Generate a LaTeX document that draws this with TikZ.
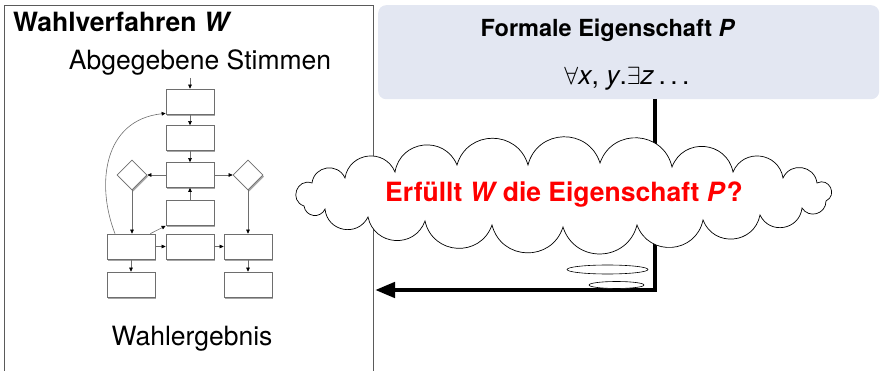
\documentclass[tikz,border=0pt]{standalone}
\usepackage{fontspec}
\setmainfont{TeX Gyre Heros}
\usetikzlibrary{shapes.geometric,arrows.meta,shadows}
\definecolor{panelblue}{RGB}{227,231,242}
\definecolor{boxgray}{RGB}{110,110,110}
\definecolor{framegray}{RGB}{90,90,90}
\tikzset{
  fcbox/.style={draw=boxgray, line width=0.7pt, fill=white, minimum width=48pt, minimum height=25pt, inner sep=0pt,
    drop shadow={shadow xshift=1.2pt, shadow yshift=-1.6pt, opacity=0.35, fill=black}},
  fcdia/.style={draw=boxgray, line width=0.7pt, fill=white, diamond, minimum width=30pt, minimum height=30pt, inner sep=0pt,
    drop shadow={shadow xshift=1.2pt, shadow yshift=-1.6pt, opacity=0.35, fill=black}},
  fcarrow/.style={draw=boxgray, line width=0.6pt, -{Triangle[length=4pt,width=3.6pt,color=black]}},
  bigtext/.style={font=\fontsize{26.5pt}{30pt}\selectfont, inner sep=0pt},
  bubble/.style={draw=black, fill=white, ellipse, line width=0.6pt, inner sep=0pt},
  puff/.style={bend left=74, looseness=1.34},
  endpuff/.style={bend left=90, looseness=1.7},
}
\begin{document}
\begin{tikzpicture}[x=1pt,y=-1pt]
\useasboundingbox (0,0) rectangle (880,371);
\clip (0,0) rectangle (880,371);
% left frame
\draw[framegray, line width=0.8pt] (4,5) rectangle (373,400);
\coordinate (frameR) at (375,290);
\node[bigtext, anchor=base west, font=\fontsize{26.5pt}{30pt}\selectfont\bfseries] (title) at (13,32) {Wahlverfahren \textit{W}};
\node[bigtext, anchor=base] (stimmen) at (200,70) {Abgegebene Stimmen};
\node[bigtext, anchor=base] (ergebnis) at (192,345) {Wahlergebnis};
% flowchart
\coordinate (in) at (190,78);
\node[fcbox] (b1) at (190,101.5) {};
\node[fcbox] (b2) at (190,138) {};
\node[fcbox] (b3) at (190,175) {};
\node[fcbox] (b4) at (190,213) {};
\node[fcbox] (b5l) at (131,246.5) {};
\node[fcbox] (b5m) at (190,246.5) {};
\node[fcbox] (b5r) at (248,246.5) {};
\node[fcbox] (b6l) at (131,284.5) {};
\node[fcbox] (b6r) at (248,284.5) {};
\node[fcdia] (d1) at (132,175) {};
\node[fcdia] (d2) at (248,175) {};
\draw[fcarrow] (in) -- (b1.north);
\draw[fcarrow] (b1) -- (b2);
\draw[fcarrow] (b2) -- (b3);
\draw[fcarrow] (b3.west) -- (d1.east);
\draw[fcarrow] (b3.east) -- (d2.west);
\draw[fcarrow] (b4) -- (b3);
\draw[fcarrow] (d1.south) -- (d1.south |- b5l.north);
\draw[fcarrow] (d2.south) -- (d2.south |- b5r.north);
\draw[fcarrow] (b5l) -- (b5m);
\draw[fcarrow] (b5m) -- (b5r);
\draw[fcarrow] ([xshift=-5pt]b5l.north east) -- (b4.south west);
\draw[fcarrow] ([xshift=-16pt]b5l.north) .. controls (96,185) and (103,120) .. ([yshift=1pt]b1.south west);
\draw[fcarrow] (b5l) -- (b6l);
\draw[fcarrow] (b5r) -- (b6r);
% right panel
\node[fill=panelblue, rounded corners=8pt, minimum width=501pt, minimum height=94pt, anchor=north west, inner sep=0pt] (panel) at (378,5) {};
\node[bigtext, anchor=base, font=\fontsize{23.5pt}{28pt}\selectfont\bfseries] (ptitle) at (608,37) {Formale Eigenschaft \textit{P}};
\node[bigtext, anchor=base, font=\fontsize{26.5pt}{30pt}\selectfont] (formula) at (627,85) {$\forall$\textit{x}, \textit{y}.$\exists$\textit{z}\,.\,.\,.};
% thick arrow
\coordinate (ptop) at (655,99);
\draw[line width=4.5pt, -{Triangle[length=20pt,width=15pt]}] (ptop) |- (frameR);
% cloud
\draw[black, fill=white, line width=0.7pt]
  (312,183) to[puff] (345,178) to[puff] (395,172) to[puff] (457,165) to[puff] (528,165)
  to[puff] (600,163) to[puff] (672,167) to[puff] (733,172) to[puff] (783,178) to[puff] (817,183)
  to[endpuff] (826,201)
  to[puff] (802,208) to[puff] (760,215) to[puff] (703,220) to[puff] (637,225) to[puff] (563,227)
  to[puff] (492,225) to[puff] (425,221) to[puff] (368,217) to[puff] (325,209) to[puff] (304,206)
  to[endpuff] (312,183) -- cycle;
\node[font=\fontsize{26.5pt}{30pt}\selectfont\bfseries, text=red, inner sep=0pt, anchor=base] (question) at (564,202)
  {Erfüllt \textit{W}\kern-2pt{} die Eigenschaft \textit{P}\kern1pt?};
% bubbles
\node[bubble, minimum width=81pt, minimum height=9pt] (e1) at (607.5,269.5) {};
\node[bubble, minimum width=55pt, minimum height=7pt] (e2) at (616.5,285) {};
\end{tikzpicture}
\end{document}
